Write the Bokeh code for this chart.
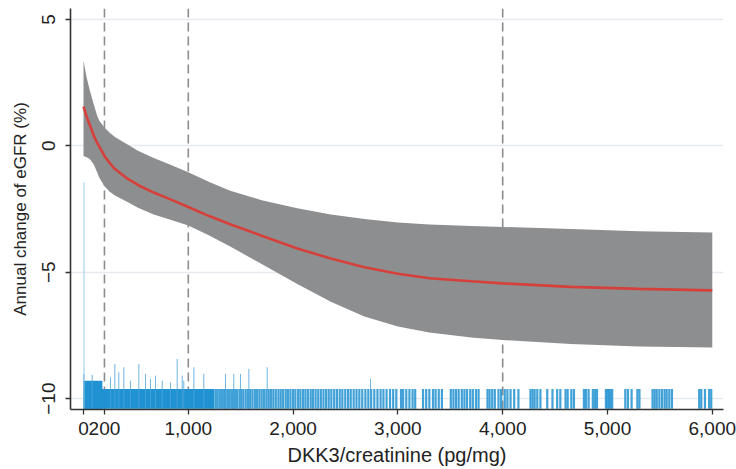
from bokeh.plotting import figure
from bokeh.models import Range1d, FixedTicker, Span
from bokeh.embed import file_html
from bokeh.resources import INLINE

# ---- fitted curve and 95% band (DKK3/creatinine vs annual eGFR change) ----
fit_x = [0, 30, 60, 100, 130, 150, 200, 250, 300, 420, 520, 670, 830, 1000, 1200, 1400,
         1700, 2040, 2360, 2680, 3000, 3300, 3700, 4000, 4650, 5300, 6000]
fit_y = [1.55, 1.15, 0.82, 0.38, 0.12, -0.02, -0.40, -0.68, -0.92, -1.30, -1.55, -1.85, -2.12,
         -2.42, -2.78, -3.10, -3.56, -4.06, -4.46, -4.80, -5.06, -5.24, -5.36, -5.44, -5.58,
         -5.66, -5.72]
band_hi = [3.36, 2.70, 2.20, 1.60, 1.20, 1.00, 0.72, 0.52, 0.35, 0.05, -0.20, -0.48, -0.75,
           -1.05, -1.43, -1.78, -2.15, -2.47, -2.72, -2.90, -3.03, -3.11, -3.17, -3.21, -3.29,
           -3.38, -3.43]
band_lo = [-0.40, -0.45, -0.52, -0.75, -1.05, -1.25, -1.60, -1.82, -1.97, -2.22, -2.45, -2.72,
           -2.93, -3.15, -3.55, -3.98, -4.68, -5.47, -6.17, -6.75, -7.15, -7.38, -7.58, -7.68,
           -7.84, -7.94, -7.98]

# ---- reference cut-offs ----
cutoffs = [200, 1000, 4000]

# ---- rug of observations ----
rug_base = -10.4
rug_top = -9.62
block_left = [0, 0]
block_right = [180, 1250]
block_top = [-9.29, -9.62]
rug_x = [1262, 1280, 1300, 1318, 1335, 1352, 1372, 1390, 1410, 1428, 1445,
         1465, 1488, 1505, 1525, 1548, 1570, 1590, 1612, 1635, 1655, 1678, 1700, 1722, 1745,
         1768, 1790, 1812, 1835, 1860, 1882, 1905, 1930, 1952, 1975, 2000, 2022, 2048, 2070,
         2095, 2118, 2142, 2168, 2190, 2215, 2240, 2265, 2290, 2315, 2340, 2365, 2392, 2418,
         2445, 2470, 2498, 2525, 2550, 2578, 2605, 2632, 2660, 2690, 2718, 2745, 2775, 2805,
         2835, 2862, 2892, 2925, 2955, 2985,
         3030, 3050, 3080, 3110, 3140, 3165, 3240, 3270, 3300, 3335, 3360, 3390, 3420, 3505,
         3530, 3555, 3580, 3610, 3635, 3660, 3690, 3715, 3745, 3770, 3855, 3875, 3900, 3925,
         3960, 3985, 4020, 4045, 4075, 4110, 4150, 4265, 4285, 4305, 4330, 4360, 4425, 4475,
         4520, 4550, 4600, 4620, 4655, 4680, 4775, 4795, 4820, 4860, 4880, 4900, 4985, 5000,
         5015, 5030, 5045, 5170, 5195, 5230, 5285, 5305, 5430, 5450, 5470, 5495, 5520, 5545,
         5565, 5590, 5615, 5875, 5895, 5930, 5970, 5990]
spike_x = [3, 83, 258, 299, 337, 385, 448, 528, 592, 639, 687, 751, 830, 894, 942, 957,
           1053, 1148, 1355, 1434, 1498, 1578, 1753, 2739]
spike_top = [-9.02, -9.06, -9.16, -8.63, -8.96, -8.76, -9.29, -8.63, -9.02, -9.22, -9.09,
             -9.29, -9.36, -8.43, -9.09, -9.29, -8.76, -9.02, -9.02, -9.02, -9.02, -8.82,
             -8.76, -9.22]
tall_x = [5]
tall_top = [-1.45]

x_ticks = [0, 200, 1000, 2000, 3000, 4000, 5000, 6000]
x_tick_labels = ["0", "200", "1,000", "2,000", "3,000", "4,000", "5,000", "6,000"]
y_ticks = [-10, -5, 0, 5]

FONT = "Liberation Sans"

p = figure(width=736, height=469, output_backend="svg", toolbar_location=None,
           x_range=Range1d(-124, 6107), y_range=Range1d(-10.43, 5.43),
           min_border_left=70, min_border_right=13, min_border_top=8, min_border_bottom=60)
p.outline_line_color = None
p.background_fill_color = "white"

# grid
p.xgrid.grid_line_color = None
p.ygrid.grid_line_color = "#e6eaee"
p.ygrid.grid_line_width = 1.5

# dashed cutoffs (under the band)
for c in cutoffs:
    p.add_layout(Span(location=c, dimension="height", line_color="#8c8c8c",
                      line_dash="9 5", line_width=1.6, level="underlay"))

# band and fit
p.varea(x=fit_x, y1=band_lo, y2=band_hi, fill_color="#8d8e90", fill_alpha=1)
p.line(fit_x, fit_y, line_color="#d6403a", line_width=2.6)

# rug
p.quad(left=block_left, right=block_right, top=block_top, bottom=rug_base,
       fill_color="#2192d1", line_color=None)
p.segment(x0=rug_x, y0=rug_base, x1=rug_x, y1=rug_top, line_color="#2192d1",
          line_width=2.2, line_alpha=0.85)
p.segment(x0=spike_x, y0=rug_base, x1=spike_x, y1=spike_top, line_color="#4aa2da",
          line_width=1, line_alpha=0.8)
p.segment(x0=tall_x, y0=rug_base, x1=tall_x, y1=tall_top, line_color="#8cc3e6",
          line_width=1, line_alpha=0.9)

# axes
for ax in (p.xaxis[0], p.yaxis[0]):
    ax.axis_line_color = "#333333"
    ax.axis_line_width = 1.6
    ax.major_tick_line_color = "#333333"
    ax.major_tick_line_width = 1.3
    ax.major_tick_out = 5
    ax.major_tick_in = 0
    ax.minor_tick_line_color = None
    ax.major_label_text_font = FONT
    ax.major_label_text_font_size = "19px"
    ax.major_label_text_color = "#222222"
    ax.axis_label_text_font = FONT
    ax.axis_label_text_font_style = "normal"
    ax.axis_label_text_color = "#222222"

p.xaxis.ticker = FixedTicker(ticks=x_ticks)
p.xaxis.major_label_overrides = dict(zip(x_ticks, x_tick_labels))
p.xaxis.axis_label = "DKK3/creatinine (pg/mg)"
p.xaxis.axis_label_text_font_size = "20px"
p.xaxis.major_label_standoff = 7
p.xaxis.axis_label_standoff = 6

p.yaxis.ticker = FixedTicker(ticks=y_ticks)
p.yaxis.major_label_orientation = "vertical"
p.yaxis.axis_label = "Annual change of eGFR (%)"
p.yaxis.axis_label_text_font_size = "17px"
p.yaxis.major_label_standoff = 10
p.yaxis.axis_label_standoff = 10

open("out.html", "w").write(file_html(p, INLINE))
